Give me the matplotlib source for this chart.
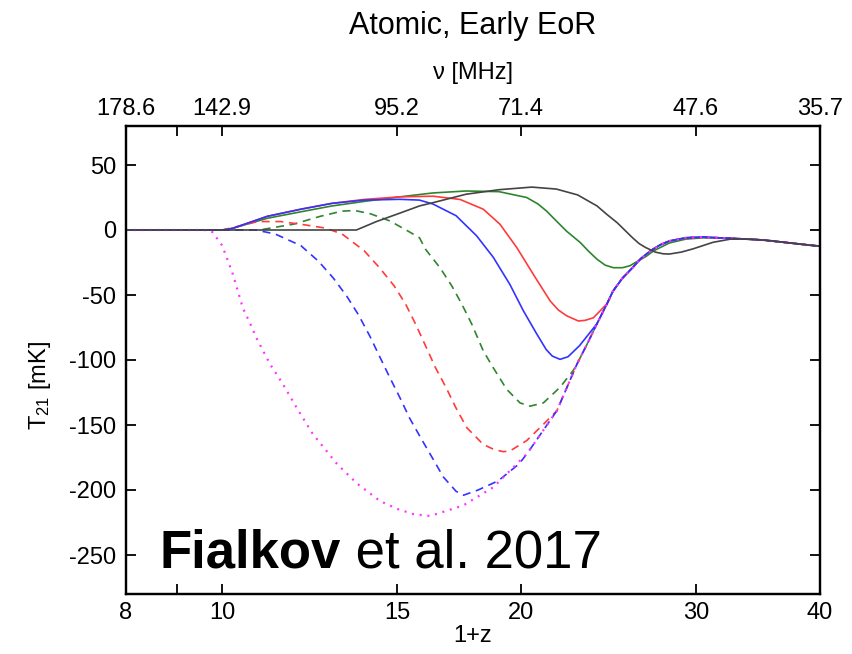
import matplotlib
matplotlib.use("Agg")
import matplotlib.pyplot as plt
from matplotlib.ticker import NullLocator

plt.rcParams['font.family'] = ['Liberation Sans', 'DejaVu Sans']
plt.rcParams['axes.unicode_minus'] = False
plt.rcParams['mathtext.default'] = 'regular'

# ---- data: 21-cm global signal T21 [mK] versus 1+z ----
# late-time branch shared by the models once they converge
bundle_z = [16.19, 17.48, 18.74, 20.28, 21.73, 22.77, 23.3, 23.85, 24.4, 24.75,
            25.3, 25.9, 26.4, 27.0, 27.6, 28.2, 29.3, 30.5, 31.6, 33.75, 35.05, 40.0]
bundle_T = [-220, -212, -198, -172, -139, -103, -88, -72, -57, -47,
            -37, -29, -22, -16, -11.5, -8.5, -6, -5.5, -6, -7, -7.7, -12.5]

magenta_z = [8.0, 9.6, 9.77, 9.86, 10.0, 10.25, 10.49, 10.67, 10.84, 11.17, 11.51,
             11.89, 12.34, 13.05, 13.67, 14.42, 15.0, 15.57]
magenta_T = [0, 0, -1.5, -5.5, -12, -34, -60, -72, -84, -103, -118.5,
             -137, -157, -180, -195, -208.5, -214.5, -218.5]

blue_dash_z = [8.0, 10.8, 11.3, 12.0, 12.5, 12.94, 13.35, 13.71, 14.09, 14.42, 14.75,
               15.1, 15.45, 15.85, 16.3, 16.7, 17.2, 17.5, 18.1, 18.96, 19.9]
blue_dash_T = [0, 0, -3, -12, -24, -37, -51, -65, -82, -98, -113.5,
               -129, -145, -160, -176, -190, -201, -204, -200, -193, -180]

red_dash_z = [8.0, 10.0, 10.4, 10.85, 11.45, 12.1, 12.7, 13.2, 13.9, 14.4, 14.9,
              15.3, 15.65, 16.0, 16.4, 16.8, 17.2, 17.63, 18.32, 18.8, 19.19,
              19.49, 20.26, 21.06]
red_dash_T = [0, 0, 3, 6.5, 6.5, 4, 1.5, -3, -16, -29, -43,
              -57, -72, -88, -106, -121, -137, -152, -165, -169, -170.5,
              -170, -162, -149.5]

green_dash_z = [8.0, 10.9, 11.8, 12.55, 13.2, 13.6, 14.1, 14.75, 15.4, 15.8, 16.03,
                16.57, 17.03, 17.43, 17.84, 18.32, 18.75, 19.34, 19.95, 20.42,
                21.06, 21.89, 22.57]
green_dash_T = [0, 0, 4.5, 10.5, 14.5, 15, 12.5, 7, -1, -6, -15,
                -29, -43, -57, -72.5, -93, -106, -122.5, -133, -135.5,
                -133, -121, -108]

blue_z = [8.0, 10.0, 10.25, 11.1, 12.0, 12.9, 13.9, 15.1, 15.8, 16.3, 17.2, 18.04,
          18.75, 19.49, 20.1, 20.74, 21.2, 21.5, 21.89, 22.3, 22.9, 23.4]
blue_T = [0, 0, 1.3, 10.5, 16, 20.5, 23, 23.6, 23, 20, 11, -4.5,
          -21, -42, -62, -80, -92, -97, -99.5, -97.5, -89, -80]

red_z = [8.0, 10.0, 10.25, 11.1, 12.0, 12.9, 13.9, 15.1, 16.3, 17.36, 18.32, 19.04,
         19.8, 20.57, 21.39, 21.8, 22.23, 22.84, 23.2, 23.65, 24.39]
red_T = [0, 0, 1.3, 10.5, 16, 20.5, 23.5, 25.5, 26, 23.5, 16, 4.5,
         -13.5, -34, -54.5, -61.5, -66, -70, -69.5, -67.5, -57]

green_z = [8.0, 10.1, 11.1, 12.0, 12.9, 13.9, 15.1, 16.3, 17.6, 19.0, 20.26, 20.8,
           21.22, 21.7, 22.23, 22.93, 23.4, 23.85, 24.3, 24.77, 25.3, 25.74, 26.76,
           27.2, 28.2, 29.3, 30.5]
green_T = [0, 0, 9, 14, 18.5, 22, 25.5, 28.5, 30, 29.5, 25, 20,
           14.5, 7, -1, -9.5, -16.5, -22.5, -27, -29, -29, -27.5, -20,
           -16, -10, -7, -6]

black_z = [8.0, 13.65, 14.3, 15.1, 15.8, 16.3, 17.6, 19.0, 20.5, 21.7, 22.8, 23.85,
           24.4, 25.0, 25.9, 26.3, 26.7, 27.3, 27.8, 28.2, 29.0, 29.8, 31.2, 32.5]
black_T = [0, 0, 6.5, 13, 18.5, 21, 27.5, 31, 33, 31.5, 27, 18.5,
           12, 5.5, -6, -10.5, -13.5, -17, -18.3, -18.5, -17, -14.5, -9.5, -7]

# axis ticks: redshift below, observed frequency above
z_ticks = [8, 9, 10, 15, 20, 30, 40]
z_labels = ['8', '', '10', '15', '20', '30', '40']
nu_labels = ['178.6', '', '142.9', '95.2', '71.4', '47.6', '35.7']
T_ticks = [50, 0, -50, -100, -150, -200, -250]


def with_bundle(z, T):
    """Append the shared late-time branch after a model's own points."""
    zz = list(z) + [b for b in bundle_z if b > z[-1]]
    TT = list(T) + [t for b, t in zip(bundle_z, bundle_T) if b > z[-1]]
    return zz, TT


W, H = 853, 654
fig = plt.figure(figsize=(W / 100, H / 100), dpi=100)
L, R, T_, B = 126, 820, 126, 594
ax = fig.add_axes([L / W, 1 - B / H, (R - L) / W, (B - T_) / H])
ax.set_xscale('log')

lw = 1.2
c_blue, c_red, c_green = '#3333ff', '#ff3b3b', '#2e852e'
c_black, c_mag = '#444444', '#ff33ff'
dash = (0, (4.8, 3.4))

ax.plot(*with_bundle(green_z, green_T), color=c_green, lw=lw)
ax.plot(*with_bundle(red_z, red_T), color=c_red, lw=lw)
ax.plot(*with_bundle(green_dash_z, green_dash_T), color=c_green, lw=lw, ls=dash)
ax.plot(*with_bundle(red_dash_z, red_dash_T), color=c_red, lw=lw, ls=dash)
ax.plot(*with_bundle(blue_dash_z, blue_dash_T), color=c_blue, lw=lw, ls=dash)
ax.plot(*with_bundle(blue_z, blue_T), color=c_blue, lw=lw)
ax.plot(*with_bundle(magenta_z, magenta_T), color=c_mag, lw=1.6,
        ls=(0, (0.9, 2.6)))
ax.plot(*with_bundle(black_z, black_T), color=c_black, lw=lw)

ax.set_xlim(8, 40)
ax.set_ylim(-280, 80)
ax.set_xticks(z_ticks, z_labels)
ax.xaxis.set_minor_locator(NullLocator())
ax.set_yticks(T_ticks, [str(t) for t in T_ticks])
ax.tick_params(direction='in', length=7, width=1.3, labelsize=17,
               right=True, top=False, pad=6)
ax.tick_params(axis='y', pad=7)

ax2 = ax.twiny()
ax2.set_xscale('log')
ax2.set_xlim(8, 40)
ax2.set_xticks(z_ticks, nu_labels)
ax2.xaxis.set_minor_locator(NullLocator())
ax2.tick_params(direction='in', length=7, width=1.3, labelsize=17, pad=4)

for a in (ax, ax2):
    for s in a.spines.values():
        s.set_linewidth(1.6)

fig.text(473 / W, 1 - 26 / H, 'Atomic, Early EoR', fontsize=22,
         ha='center', va='center')
fig.text(473 / W, 1 - 73 / H, 'ν [MHz]', fontsize=17, ha='center', va='center')
fig.text(473 / W, 1 - 636 / H, '1+z', fontsize=17, ha='center', va='center')
fig.text(40 / W, 1 - 385 / H, r'T$_{21}$ [mK]', fontsize=17, rotation=90,
         ha='center', va='center')

t1 = fig.text(160 / W, 1 - 567 / H, 'Fialkov', fontsize=38, fontweight='bold',
              ha='left', va='baseline')
ax.annotate(' et al. 2017', xy=(1, 0), xycoords=t1, fontsize=38,
            ha='left', va='bottom', annotation_clip=False)

fig.savefig('out.png', dpi=100)
